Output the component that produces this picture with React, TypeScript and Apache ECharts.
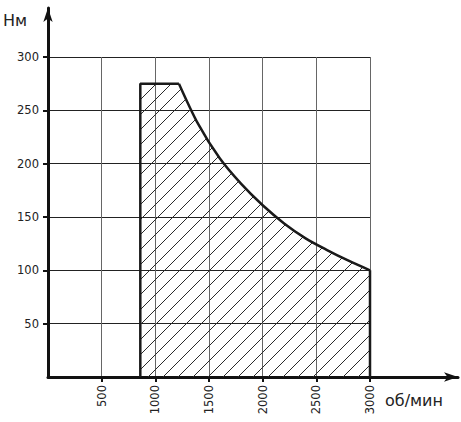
import React, { useEffect, useRef } from "react";
import * as echarts from "echarts";

// ---- data ----
const xTicks = [500, 1000, 1500, 2000, 2500, 3000];
const yTicks = [50, 100, 150, 200, 250, 300];
// flat (constant torque) part: left edge then top
const flatPart: [number, number][] = [
  [860, 0],
  [860, 275],
  [1220, 275],
];
// falling torque curve (rpm, Nm)
const curveRpm = [1220, 1400, 1600, 1800, 2000, 2200, 2400, 2600, 2800, 3000];
const curveNm = [275, 237, 205, 181, 161, 144, 130, 119, 109, 100];
// right edge
const rightEdge: [number, number][] = [
  [3000, 100],
  [3000, 0],
];

const FONT = "DejaVu Sans";

function makeHatch(): HTMLCanvasElement {
  const s = 15;
  const c = document.createElement("canvas");
  c.width = s;
  c.height = s;
  const ctx = c.getContext("2d")!;
  ctx.strokeStyle = "#2a2a2a";
  ctx.lineWidth = 1;
  ctx.beginPath();
  ctx.moveTo(-1, s + 1);
  ctx.lineTo(s + 1, -1);
  ctx.moveTo(-1, 1);
  ctx.lineTo(1, -1);
  ctx.moveTo(s - 1, s + 1);
  ctx.lineTo(s + 1, s - 1);
  ctx.stroke();
  return c;
}

export default function App() {
  const ref = useRef<HTMLDivElement>(null);
  useEffect(() => {
    if (!ref.current) return;
    const chart = echarts.init(ref.current, null, { renderer: "svg" });
    const hatch = { image: makeHatch(), repeat: "repeat" } as any;
    const curve = curveRpm.map((x, i) => [x, curveNm[i]]);
    const outline = "#1a1a1a";
    chart.setOption({
      animation: false,
      backgroundColor: "#ffffff",
      grid: [
        { left: 48, top: 57, width: 322, height: 320 },
        { left: 48, top: 8, width: 410, height: 369 },
      ],
      xAxis: [
        {
          type: "value",
          gridIndex: 0,
          min: 0,
          max: 3000,
          interval: 500,
          axisLine: { show: false },
          axisTick: { show: false },
          axisLabel: { show: false },
          splitLine: { show: true, lineStyle: { color: "#666", width: 1 } },
        },
        {
          type: "value",
          gridIndex: 1,
          min: 0,
          max: 3820,
          interval: 500,
          axisLine: {
            show: true,
            symbol: ["none", "arrow"],
            symbolSize: [7, 14],
            lineStyle: { color: "#111", width: 3 },
          },
          axisTick: {
            show: true,
            length: 5,
            customValues: xTicks,
            lineStyle: { color: "#111", width: 2 },
          },
          axisLabel: {
            show: true,
            customValues: xTicks,
            formatter: (v: number) => String(v),
            rotate: 90,
            margin: 8,
            color: "#222",
            fontFamily: FONT,
            fontSize: 11.5,
          },
          splitLine: { show: false },
        },
      ],
      yAxis: [
        {
          type: "value",
          gridIndex: 0,
          min: 0,
          max: 300,
          interval: 50,
          axisLine: { show: false },
          axisTick: { show: false },
          axisLabel: { show: false },
          splitLine: { show: true, lineStyle: { color: "#222", width: 1 } },
        },
        {
          type: "value",
          gridIndex: 1,
          min: 0,
          max: 346,
          interval: 50,
          axisLine: {
            show: true,
            symbol: ["none", "arrow"],
            symbolSize: [7, 14],
            lineStyle: { color: "#111", width: 3 },
          },
          axisTick: {
            show: true,
            length: 5,
            customValues: yTicks,
            lineStyle: { color: "#111", width: 2 },
          },
          axisLabel: {
            show: true,
            customValues: yTicks,
            formatter: (v: number) => String(v),
            margin: 9,
            color: "#222",
            fontFamily: FONT,
            fontSize: 11.5,
          },
          splitLine: { show: false },
        },
      ],
      series: [
        {
          type: "line",
          xAxisIndex: 0,
          yAxisIndex: 0,
          data: flatPart,
          showSymbol: false,
          lineStyle: { color: outline, width: 2.5 },
          areaStyle: { color: hatch, opacity: 1 },
          z: 3,
        },
        {
          type: "line",
          xAxisIndex: 0,
          yAxisIndex: 0,
          data: curve,
          smooth: 0.3,
          showSymbol: false,
          lineStyle: { color: outline, width: 2.5 },
          areaStyle: { color: hatch, opacity: 1 },
          z: 3,
        },
        {
          type: "line",
          xAxisIndex: 0,
          yAxisIndex: 0,
          data: rightEdge,
          showSymbol: false,
          lineStyle: { color: outline, width: 2.5 },
          z: 3,
        },
      ],
      graphic: [
        {
          type: "text",
          left: 3,
          top: 12,
          style: { text: "Нм", font: `16px "${FONT}"`, fill: "#222" },
        },
        {
          type: "text",
          left: 385,
          top: 392,
          style: { text: "об/мин", font: `16px "${FONT}"`, fill: "#222" },
        },
      ],
    });
    return () => chart.dispose();
  }, []);
  return (
    <div
      ref={ref}
      style={{ position: "absolute", left: 0, top: 0, width: 461, height: 422 }}
    />
  );
}
